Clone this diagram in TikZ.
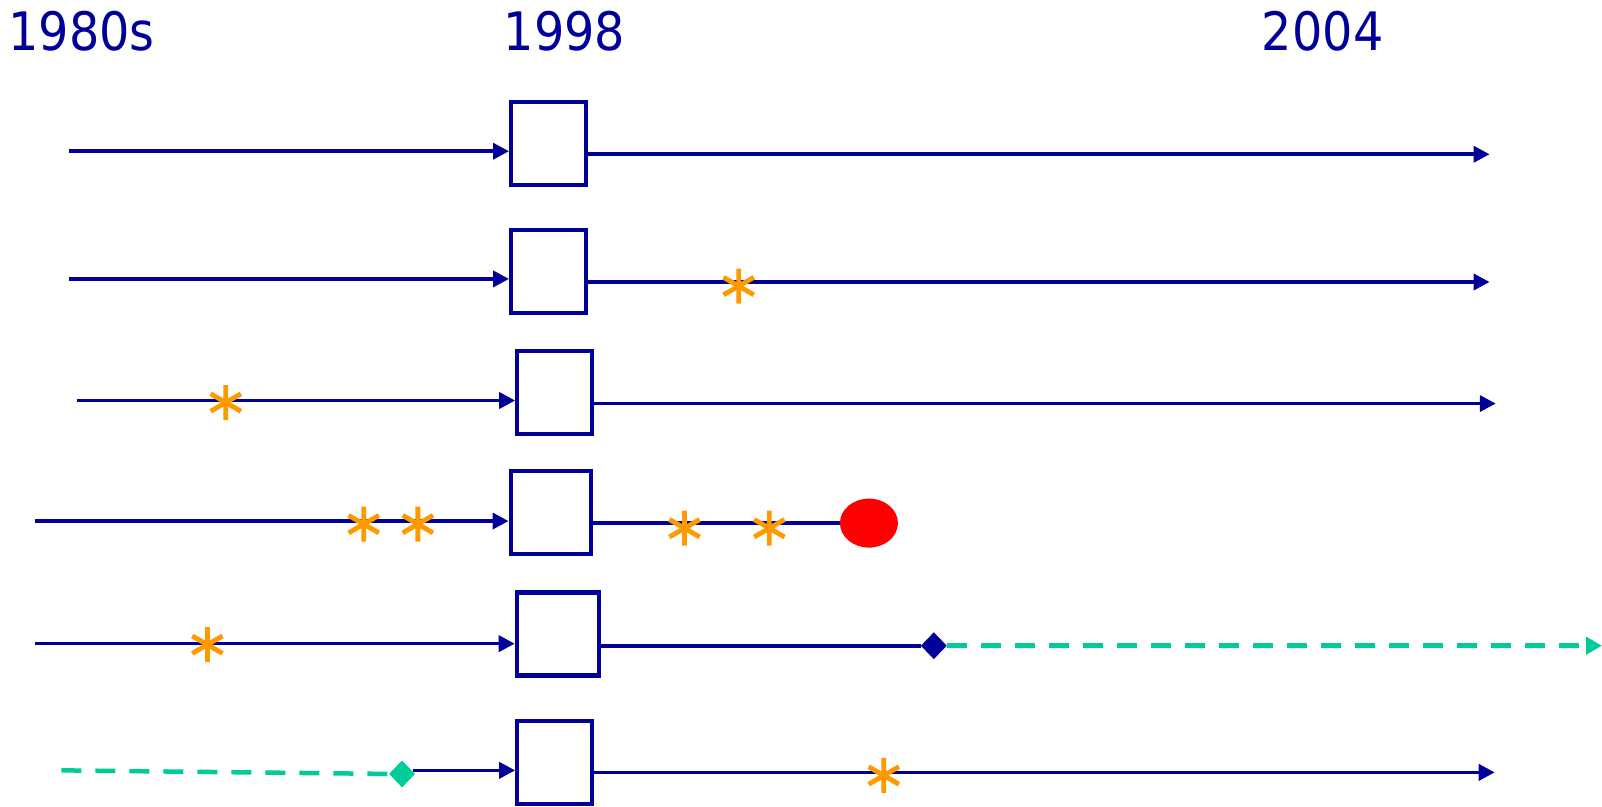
\documentclass[tikz,border=0pt]{standalone}
\usepackage{fontspec}
\setmainfont{DejaVu Sans}
\newfontfamily\labfont[FakeStretch=0.9]{DejaVu Sans}
\usetikzlibrary{arrows.meta,shapes.geometric}
\definecolor{navy}{RGB}{0,0,153}
\definecolor{astorange}{RGB}{255,153,0}
\definecolor{dgreen}{RGB}{0,204,153}
\definecolor{dred}{RGB}{255,0,0}
\begin{document}
\begin{tikzpicture}[x=1.0217pt,y=-1.0217pt,
  boxnode/.style={draw=navy,line width=4.2pt,minimum width=#1,minimum height=83pt,inner sep=0pt,fill=white},
  boxnode/.default=75pt,
  tl/.style={draw=navy,line width=3.6pt},
  tla/.style={tl,-{Triangle[length=16pt,width=16pt]}},
  gd/.style={draw=dgreen,line width=4.5pt,dash pattern=on 20pt off 14pt},
  gda/.style={gd,-{Triangle[length=16pt,width=17pt]}},
  yr/.style={text=navy,font=\labfont\fontsize{53}{60}\selectfont,anchor=base west,inner sep=0pt},
  dia/.style={diamond,minimum width=26pt,minimum height=27pt,inner sep=0pt},
  astk/.pic={\draw[astorange,line width=4.8pt] (90:17.5pt) -- (270:17.5pt) (30:17.5pt) -- (210:17.5pt) (150:17.5pt) -- (330:17.5pt);}
]
\useasboundingbox (0,0) rectangle (1568,789);

% year labels
\node[yr] (y1) at (8,49) {1980s};
\node[yr] (y2) at (493,49) {1998};
\node[yr] (y3) at (1235,49) {2004};

% boxes
\node[boxnode] (b1) at (537,140.5) {};
\node[boxnode] (b2) at (537,265.5) {};
\node[boxnode] (b3) at (543,384.5) {};
\node[boxnode=80pt] (b4) at (539,502) {};
\node[boxnode=82pt] (b5) at (546,620.5) {};
\node[boxnode] (b6) at (543,746.5) {};

% start / end coordinates
\coordinate (s1) at (68,148);  \coordinate (e1) at (1458,151);
\coordinate (s2) at (68,273);  \coordinate (e2) at (1458,276);
\coordinate (s3) at (75,392);  \coordinate (e3) at (1464,395);
\coordinate (s4) at (34,510);
\coordinate (s5) at (34,630);  \coordinate (e5) at (1568,632);
\coordinate (s6) at (60,754);  \coordinate (g6) at (404,754); \coordinate (e6) at (1463,756);

% row 1
\draw[tla] (s1) -- (b1.west |- s1);
\draw[tla] (b1.east |- e1) -- (e1);
% row 2
\draw[tla] (s2) -- (b2.west |- s2);
\draw[tla] (b2.east |- e2) -- (e2);
% row 3
\draw[tla] (s3) -- (b3.west |- s3);
\draw[tla] (b3.east |- e3) -- (e3);
% row 4
\node[ellipse,fill=dred,minimum width=58pt,minimum height=49pt,inner sep=0pt] (el) at (850.5,512) {};
\draw[tla] (s4) -- (b4.west |- s4);
\draw[tl] (b4.east |- el) -- (el.west);
% row 5
\node[dia,fill=navy] (d5) at (914,632) {};
\draw[tla] (s5) -- (b5.west |- s5);
\draw[tl] (b5.east |- d5) -- (d5.west);
\draw[gda] (d5.east) -- (e5);
% row 6
\node[dia,fill=dgreen] (d6) at (393.5,757.5) {};
\draw[gd] (s6) -- (d6.west);
\draw[tla] (g6) -- (b6.west |- g6);
\draw[tla] (b6.east |- e6) -- (e6);

% asterisks
\pic at (723,280) {astk};
\pic at (221,394) {astk};
\pic at (356,513) {astk};
\pic at (409,513) {astk};
\pic at (670,517) {astk};
\pic at (753,517) {astk};
\pic at (203,631) {astk};
\pic at (865,759) {astk};
\end{tikzpicture}
\end{document}
